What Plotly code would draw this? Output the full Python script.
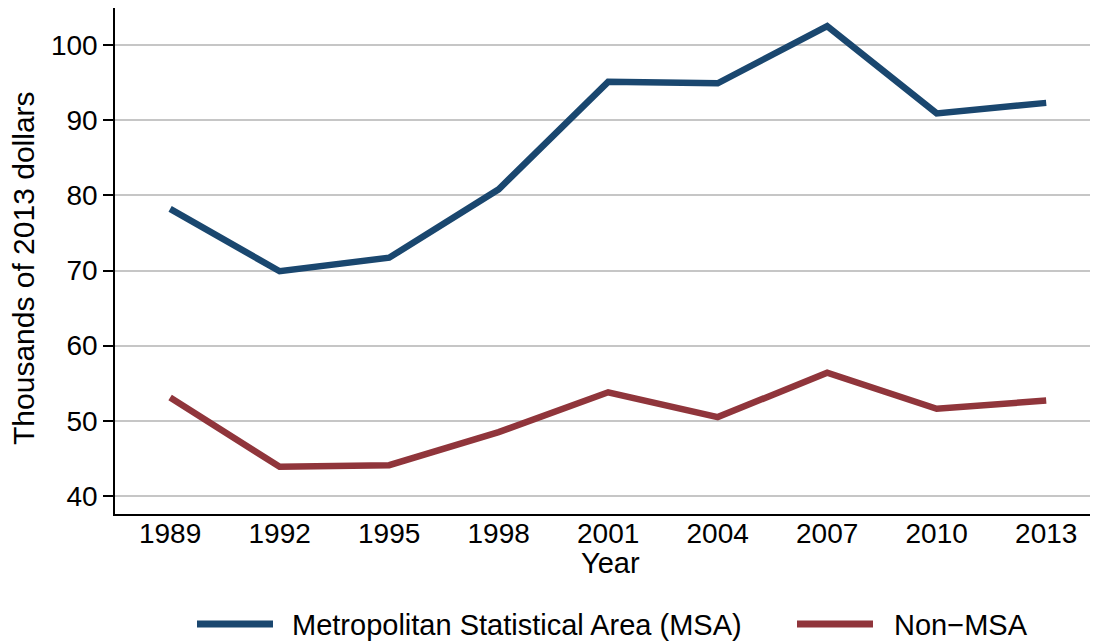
import plotly.graph_objects as go

years = [1989, 1992, 1995, 1998, 2001, 2004, 2007, 2010, 2013]
msa = [78.2, 69.9, 71.7, 80.8, 95.1, 94.9, 102.5, 90.9, 92.3]
non_msa = [53.1, 43.9, 44.1, 48.5, 53.8, 50.5, 56.4, 51.6, 52.7]
series_names = ["Metropolitan Statistical Area (MSA)", "Non\u2212MSA"]
colors = ["#1a476f", "#90353b"]

FONT = "Liberation Sans, Arial, Helvetica, sans-serif"
W, H = 1095, 643
L, R, T, B = 115, 5, 8, 129
PW, PH = W - L - R, H - T - B


def px(x):
    return (x - L) / PW


def py(y):
    return (H - B - y) / PH


fig = go.Figure()
for vals, name, col in zip([msa, non_msa], series_names, colors):
    fig.add_trace(go.Scatter(x=years, y=vals, mode="lines", name=name,
                             line=dict(color=col, width=6.5)))

# manual legend (keys + labels)
legend_keys = [(197, 273, 290), (797, 873, 892)]
for (x0, x1, xt), name, col in zip(legend_keys, series_names, colors):
    fig.add_shape(type="line", xref="paper", yref="paper",
                  x0=px(x0), x1=px(x1), y0=py(624), y1=py(624),
                  line=dict(color=col, width=7))
    fig.add_annotation(xref="paper", yref="paper", x=px(xt), y=py(625),
                       xanchor="left", yanchor="middle", showarrow=False,
                       text=name, font=dict(size=29, family=FONT, color="black"))

# axis titles
fig.add_annotation(xref="paper", yref="paper", x=px(610), y=py(563),
                   xanchor="center", yanchor="middle", showarrow=False,
                   text="Year", font=dict(size=29, family=FONT, color="black"))
fig.add_annotation(xref="paper", yref="paper", x=px(24), y=py(268),
                   xanchor="center", yanchor="middle", showarrow=False, textangle=-90,
                   text="Thousands of 2013 dollars", font=dict(size=30, family=FONT, color="black"))

fig.update_layout(
    width=W, height=H,
    margin=dict(l=L, r=R, t=T, b=B),
    paper_bgcolor="white", plot_bgcolor="white",
    font=dict(family=FONT, size=28, color="black"),
    showlegend=False,
)
fig.update_xaxes(range=[1987.49, 2014.2], tickvals=years, ticks="", showgrid=False,
                 showline=True, linecolor="black", linewidth=1.5, zeroline=False,
                 automargin=False, tickfont=dict(size=28), ticklabelstandoff=-6)
fig.update_yaxes(range=[37.61, 104.92], tickvals=[40, 50, 60, 70, 80, 90, 100],
                 ticks="outside", ticklen=10, tickwidth=1.5, tickcolor="black",
                 showgrid=True, gridcolor="#c6c6c6", gridwidth=2,
                 showline=True, linecolor="black", linewidth=1.5, zeroline=False,
                 automargin=False, tickfont=dict(size=28))

fig.write_html("out.html", config={"displayModeBar": False},
               post_script="document.body.style.margin='0';")
